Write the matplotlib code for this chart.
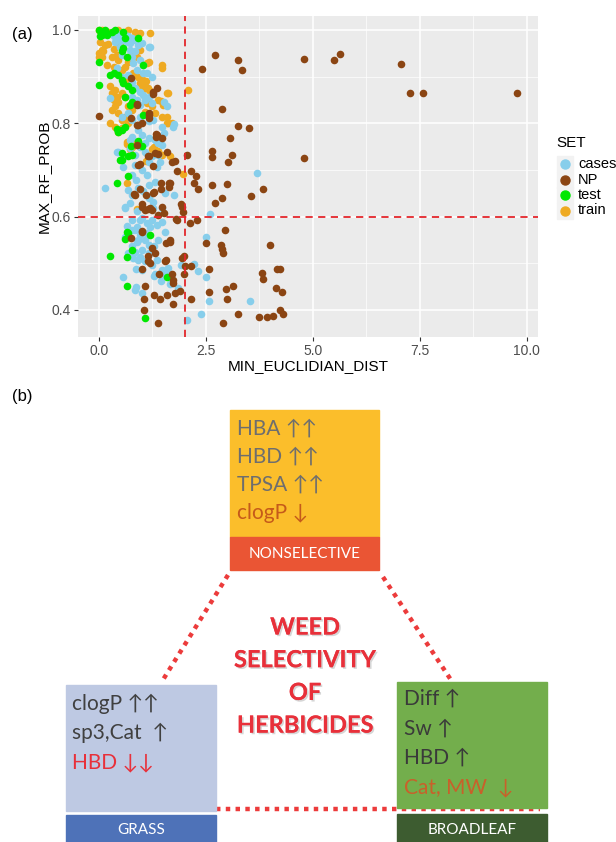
import matplotlib
matplotlib.use("Agg")
import matplotlib.pyplot as plt
import matplotlib.patheffects as pe
from matplotlib.patches import Rectangle
from matplotlib.ticker import MultipleLocator

# ---- panel (a) data: (MIN_EUCLIDIAN_DIST, MAX_RF_PROB) ----
np_x = [0.00, 2.70, 3.26, 3.34, 2.41, 4.78, 5.50, 5.63, 7.05, 7.26, 7.57, 9.77, 4.78, 2.88, 3.26,
        3.50, 3.06, 2.63, 2.63, 3.10, 3.02, 2.05, 2.15, 2.27, 2.32, 2.21, 2.63, 3.00, 3.83, 3.55,
        2.88, 2.72, 1.82, 1.77, 1.92, 1.96, 2.13, 2.30, 1.80, 1.38, 2.95, 2.50, 2.86, 2.88, 2.90,
        4.00, 1.98, 2.00, 2.14, 1.99, 2.58, 3.82, 3.83, 4.15, 4.22, 4.13, 4.28, 2.98, 3.13, 2.58,
        2.14, 3.00, 3.24, 2.90, 3.73, 3.92, 4.06, 4.24, 4.31, 1.77, 1.90, 1.74, 1.43, 1.29, 1.59,
        1.38, 1.05, 1.05, 1.07, 1.00, 1.15, 1.15, 1.24, 1.70, 1.72, 1.74, 1.57, 1.57, 1.67, 1.41,
        1.01, 0.74, 1.15, 1.07, 1.24, 1.47, 1.51, 1.01, 1.11, 0.83, 0.97, 1.29, 1.44, 1.64, 1.64,
        1.44, 1.26, 1.15, 0.97, 0.88, 0.92, 0.74, 0.90, 1.18, 1.18, 1.34, 1.34, 1.47, 1.59, 1.38,
        1.27, 1.36, 0.76, 1.16, 1.31, 0.92, 1.70, 1.66, 1.27, 0.84, 1.00, 1.20, 1.82, 1.94, 1.00,
        1.66, 1.31, 1.20, 1.55, 1.94, 1.27, 0.88, 1.16, 0.88, 1.00, 1.35]
np_y = [0.816, 0.947, 0.936, 0.914, 0.916, 0.938, 0.936, 0.948, 0.926, 0.865, 0.865, 0.865, 0.726, 0.830, 0.795,
        0.789, 0.768, 0.740, 0.727, 0.732, 0.716, 0.731, 0.697, 0.688, 0.660, 0.671, 0.667, 0.669, 0.660, 0.644,
        0.640, 0.630, 0.697, 0.719, 0.628, 0.609, 0.587, 0.593, 0.594, 0.603, 0.572, 0.543, 0.540, 0.530, 0.523,
        0.540, 0.515, 0.494, 0.494, 0.477, 0.488, 0.479, 0.467, 0.488, 0.488, 0.447, 0.438, 0.445, 0.451, 0.438,
        0.424, 0.424, 0.391, 0.373, 0.385, 0.385, 0.387, 0.399, 0.391, 0.437, 0.440, 0.412, 0.424, 0.431, 0.431,
        0.373, 0.423, 0.399, 0.452, 0.488, 0.504, 0.515, 0.532, 0.476, 0.465, 0.458, 0.508, 0.543, 0.550, 0.476,
        0.569, 0.554, 0.617, 0.614, 0.614, 0.621, 0.607, 0.628, 0.646, 0.649, 0.660, 0.653, 0.660, 0.664, 0.672,
        0.672, 0.708, 0.729, 0.713, 0.754, 0.797, 0.812, 0.842, 0.812, 0.823, 0.777, 0.770, 0.768, 0.738, 0.734,
        0.868, 0.875, 0.896, 0.729, 0.736, 0.711, 0.718, 0.671, 0.650, 0.646, 0.621, 0.618, 0.593, 0.621, 0.568,
        0.546, 0.521, 0.500, 0.504, 0.511, 0.863, 0.839, 0.818, 0.796, 0.800, 0.775]

cases_x = [0.34, 0.45, 0.53, 0.61, 0.69, 0.77, 0.84, 0.37, 0.49, 0.57, 0.65, 0.73, 0.92, 1.00, 1.16,
           0.49, 0.53, 0.73, 0.77, 0.84, 0.96, 1.04, 0.80, 0.88, 1.04, 0.41, 0.53, 0.69, 0.77, 0.84,
           0.96, 1.04, 1.16, 1.08, 1.23, 0.26, 0.77, 0.88, 0.96, 0.53, 0.69, 0.77, 0.96, 1.16, 1.27,
           1.51, 1.59, 1.74, 1.47, 0.92, 1.00, 1.16, 1.08, 0.73, 0.77, 1.31, 1.39, 1.51, 1.12, 1.23,
           1.20, 0.41, 0.57, 0.14, 0.73, 0.84, 0.96, 1.08, 1.23, 1.39, 1.47, 0.84, 1.00, 1.16, 1.35,
           0.77, 0.86, 0.69, 0.77, 0.92, 1.04, 1.16, 1.27, 0.61, 0.73, 0.88, 1.00, 1.12, 1.23, 1.35,
           1.47, 0.77, 0.65, 0.84, 0.96, 1.08, 0.88, 0.77, 0.84, 0.96, 1.08, 1.23, 1.35, 1.16, 0.69,
           0.80, 1.39, 1.55, 1.16, 1.47, 1.62, 1.00, 1.27, 1.55, 1.47, 1.31, 1.16, 1.12, 1.43, 3.69,
           2.60, 2.51, 2.49, 2.58, 3.53, 2.38, 2.05, 2.21, 2.32, 1.92, 1.75, 1.75, 1.84, 0.57, 0.86,
           1.01, 1.57, 1.66, 1.47, 1.29, 1.46, 0.86, 0.62, 0.84, 1.30, 1.55, 0.60, 0.74, 0.92, 1.01,
           1.20, 1.29, 1.11, 1.20, 0.88, 0.97, 0.78, 0.92, 0.44]
cases_y = [0.986, 0.989, 0.993, 0.989, 0.986, 0.982, 0.979, 0.975, 0.979, 0.979, 0.975, 0.971, 0.968, 0.971, 0.964,
           0.964, 0.946, 0.957, 0.943, 0.954, 0.936, 0.925, 0.929, 0.914, 0.907, 0.918, 0.900, 0.904, 0.889, 0.875,
           0.868, 0.861, 0.857, 0.850, 0.843, 0.854, 0.857, 0.850, 0.839, 0.814, 0.821, 0.807, 0.814, 0.804, 0.807,
           0.846, 0.836, 0.793, 0.793, 0.786, 0.775, 0.768, 0.757, 0.764, 0.771, 0.764, 0.757, 0.779, 0.907, 0.900,
           0.964, 0.739, 0.707, 0.661, 0.746, 0.732, 0.750, 0.739, 0.729, 0.732, 0.754, 0.711, 0.700, 0.718, 0.707,
           0.689, 0.679, 0.657, 0.646, 0.661, 0.654, 0.640, 0.632, 0.618, 0.629, 0.611, 0.596, 0.586, 0.593, 0.582,
           0.589, 0.593, 0.579, 0.571, 0.561, 0.550, 0.546, 0.536, 0.525, 0.514, 0.504, 0.496, 0.507, 0.521, 0.521,
           0.511, 0.550, 0.568, 0.539, 0.486, 0.489, 0.486, 0.618, 0.650, 0.618, 0.675, 0.668, 0.689, 0.718, 0.694,
           0.605, 0.556, 0.471, 0.419, 0.420, 0.391, 0.379, 0.498, 0.484, 0.497, 0.798, 0.646, 0.447, 0.471, 0.449,
           0.437, 0.486, 0.455, 0.483, 0.472, 0.462, 0.488, 0.556, 0.443, 0.478, 0.475, 0.621, 0.522, 0.508, 0.529,
           0.522, 0.536, 0.564, 0.578, 0.578, 0.593, 0.571, 0.550, 0.739]

test_x = [0.00, 0.06, 0.14, 0.06, 0.18, 0.30, 0.37, 0.57, 0.61, 0.92, 0.02, 0.57, 0.53, 0.65, 0.00,
          1.04, 0.26, 0.34, 0.53, 0.57, 0.45, 0.00, 0.69, 0.77, 0.61, 0.77, 0.73, 1.04, 0.61, 0.53,
          0.45, 0.43, 0.74, 0.69, 0.54, 0.92, 1.01, 0.53, 0.49, 0.69, 0.77, 0.41, 0.69, 0.65, 0.61,
          1.20, 0.26, 0.65, 0.66, 1.07, 1.58, 0.78]
test_y = [1.000, 0.996, 1.000, 0.989, 0.989, 0.996, 1.000, 0.996, 0.982, 0.982, 0.986, 0.961, 0.954, 0.943, 0.932,
          0.925, 0.904, 0.907, 0.893, 0.886, 0.904, 0.882, 0.879, 0.871, 0.857, 0.846, 0.839, 0.818, 0.793, 0.786,
          0.782, 0.787, 0.752, 0.729, 0.722, 0.763, 0.752, 0.736, 0.721, 0.686, 0.732, 0.671, 0.564, 0.568, 0.553,
          0.561, 0.515, 0.513, 0.452, 0.382, 0.471, 0.529]

train_x = [0.00, 0.06, 0.22, 0.45, 0.61, 0.69, 0.84, 0.96, 1.20, 0.02, 0.06, 0.06, 0.22, 0.34, 0.41,
           0.45, 0.34, 0.41, 0.53, 0.61, 0.69, 0.80, 0.88, 0.96, 1.12, 1.16, 1.47, 1.47, 0.92, 1.04,
           0.96, 1.08, 1.00, 1.16, 1.23, 0.26, 0.37, 0.30, 0.41, 0.34, 0.45, 0.53, 0.61, 0.61, 0.69,
           0.37, 0.30, 0.45, 0.61, 0.53, 0.69, 1.39, 1.50, 1.62, 1.62, 1.70, 2.09, 1.12, 1.23, 1.08,
           1.31, 1.47, 1.59, 0.69, 0.77, 0.88, 0.45, 0.53, 0.37, 0.26, 0.00, 0.00, 1.00, 1.10, 1.14,
           1.60, 1.45, 1.60, 0.65, 0.78, 1.29, 1.38, 1.47, 1.65, 1.11, 0.65, 0.88, 1.96, 0.65, 0.84,
           0.72, 1.23, 0.14, 0.10, 0.50, 0.80, 0.30, 0.18]
train_y = [1.000, 1.000, 0.996, 1.000, 0.996, 1.000, 0.996, 0.993, 0.993, 0.975, 0.957, 0.943, 0.970, 0.960, 0.946,
           0.936, 0.920, 0.914, 0.914, 0.921, 0.932, 0.950, 0.943, 0.957, 0.930, 0.932, 0.925, 0.918, 0.900, 0.893,
           0.886, 0.879, 0.871, 0.871, 0.864, 0.879, 0.871, 0.864, 0.857, 0.850, 0.846, 0.864, 0.857, 0.886, 0.893,
           0.836, 0.829, 0.821, 0.814, 0.807, 0.800, 0.850, 0.839, 0.864, 0.800, 0.800, 0.871, 0.843, 0.836, 0.825,
           0.821, 0.814, 0.814, 0.836, 0.829, 0.843, 0.782, 0.789, 0.793, 0.800, 0.950, 0.943, 0.883, 0.890, 0.876,
           0.865, 0.848, 0.800, 0.756, 0.749, 0.749, 0.741, 0.731, 0.729, 0.720, 0.671, 0.617, 0.692, 0.760, 0.757,
           0.745, 0.745, 0.968, 0.954, 0.968, 0.907, 0.943, 0.925]

set_names = ["cases", "NP", "test", "train"]
set_colors = ["#87CEEB", "#8B4513", "#00E800", "#EEAA22"]

x_cut = 2.0
y_cut = 0.6

# ---- panel (b) text ----
nonsel_lines = ["HBA \u2191\u2191", "HBD \u2191\u2191", "TPSA \u2191\u2191", "clogP \u2193"]
grass_lines = ["clogP \u2191\u2191", "sp3,Cat  \u2191", "HBD \u2193\u2193"]
broad_lines = ["Diff \u2191", "Sw \u2191", "HBD \u2191", "Cat, MW  \u2193"]
center_lines = ["WEED", "SELECTIVITY", "OF", "HERBICIDES"]

W, H = 616, 842
fig = plt.figure(figsize=(W / 100, H / 100), dpi=100)

# ---------------- (a) scatter ----------------
ax = fig.add_axes([78 / W, 1 - 337 / H, (538 - 78) / W, (337 - 15.5) / H])
ax.set_facecolor("#EBEBEB")
for s in ax.spines.values():
    s.set_visible(False)
ax.set_xlim(-0.49, 10.26)
ax.set_ylim(0.342, 1.031)
ax.xaxis.set_minor_locator(MultipleLocator(1.25))
ax.yaxis.set_minor_locator(MultipleLocator(0.1))
ax.set_yticks([0.4, 0.6, 0.8, 1.0])
ax.set_yticklabels(["0.4", "0.6", "0.8", "1.0"])
ax.set_xticks([0, 2.5, 5, 7.5, 10])
ax.set_xticklabels(["0.0", "2.5", "5.0", "7.5", "10.0"])
ax.grid(True, which="major", color="white", linewidth=1.1)
ax.grid(True, which="minor", color="white", linewidth=0.5)
ax.set_axisbelow(True)
ax.tick_params(which="major", length=3, pad=2, color="#333333", labelcolor="#4D4D4D", labelsize=10)
ax.tick_params(which="minor", length=0)
for lab in ax.get_xticklabels() + ax.get_yticklabels():
    lab.set_fontfamily("Liberation Sans")

data = {"train": (train_x, train_y), "cases": (cases_x, cases_y),
        "test": (test_x, test_y), "NP": (np_x, np_y)}
for name in ["train", "cases", "test", "NP"]:
    xs, ys = data[name]
    ax.scatter(xs, ys, s=30, color=set_colors[set_names.index(name)], linewidths=0, zorder=3)

ax.axvline(x_cut, color="#E3262B", linestyle=(0, (4, 3)), linewidth=1.3, zorder=4)
ax.axhline(y_cut, color="#E3262B", linestyle=(0, (4, 3)), linewidth=1.3, zorder=4)

ax.set_xlabel("MIN_EUCLIDIAN_DIST", fontsize=11, family="Liberation Sans", labelpad=1)
ax.set_ylabel("MAX_RF_PROB", fontsize=11, family="Liberation Sans", labelpad=1)

# legend drawn by hand, ggplot style
fig.text(556 / W, 1 - 143 / H, "SET", fontsize=11, family="Liberation Sans", va="center")
for i, (name, col) in enumerate(zip(set_names, set_colors)):
    yy = 164 + i * 15.5
    fig.patches.append(Rectangle((557 / W, 1 - (yy + 8) / H), 16 / W, 16 / H,
                                 transform=fig.transFigure, color="#F2F2F2", zorder=1))
    fig.lines.append(plt.Line2D([565 / W], [1 - yy / H], marker="o", markersize=6.5,
                                color=col, linestyle="none", transform=fig.transFigure))
    fig.text(578 / W, 1 - yy / H, name, fontsize=10.5, family="Liberation Sans", va="center")

fig.text(12 / W, 1 - 35 / H, "(a)", fontsize=12, family="Liberation Sans", va="center")
fig.text(12 / W, 1 - 396 / H, "(b)", fontsize=12, family="Liberation Sans", va="center")

# ---------------- (b) diagram ----------------
bx = fig.add_axes([0, 0, 1, 1], zorder=-1)
bx.set_xlim(0, W)
bx.set_ylim(H, 0)
bx.axis("off")

fam = ["Lato", "DejaVu Sans"]
dot = dict(color="#EC3B3B", linewidth=3.2, linestyle=(0, (1, 1.2)), solid_capstyle="butt",
           dash_capstyle="butt")
bx.plot([228, 161], [575, 683], **dot)
bx.plot([383, 453], [577, 683], **dot)
bx.plot([216, 540], [809, 809], **dot)

# top box
bx.add_patch(Rectangle((230, 410), 149, 127, color="#FBBE2B", zorder=2))
bx.add_patch(Rectangle((230, 537), 149, 33, color="#EA5534", zorder=2))
for i, t in enumerate(nonsel_lines):
    c = "#C55A1A" if i == 3 else "#6E6E6E"
    bx.text(237, 429 + i * 28, t, fontsize=15, family=fam, color=c, va="center", zorder=3)
bx.text(305, 554, "NONSELECTIVE", fontsize=11, family=fam, color="white",
        ha="center", va="center", zorder=3)

# grass box
bx.add_patch(Rectangle((66, 685), 150, 126, color="#BEC9E3", zorder=2))
bx.add_patch(Rectangle((66, 815), 150, 30, color="#4E72B8", zorder=2))
for i, t in enumerate(grass_lines):
    c = "#E8303A" if i == 2 else "#404040"
    bx.text(72, 704 + i * 29, t, fontsize=15, family=fam, color=c, va="center", zorder=3)
bx.text(141, 830, "GRASS", fontsize=11, family=fam, color="white", ha="center", va="center", zorder=3)

# broadleaf box
bx.add_patch(Rectangle((397, 682), 150, 126, color="#73AE4C", zorder=2))
bx.add_patch(Rectangle((397, 814), 150, 30, color="#3D5C30", zorder=2))
for i, t in enumerate(broad_lines):
    c = "#C9602A" if i == 3 else "#3A3A3A"
    bx.text(404, 699 + i * 29.5, t, fontsize=15, family=fam, color=c, va="center", zorder=3)
bx.text(472, 830, "BROADLEAF", fontsize=11, family=fam, color="white", ha="center", va="center", zorder=3)

# centre title
shadow = [pe.withSimplePatchShadow(offset=(1.2, -1.2), shadow_rgbFace="#999999", alpha=0.4), pe.Normal()]
for i, t in enumerate(center_lines):
    bx.text(305, 627 + i * 32.7, t, fontsize=17, family=fam, weight="bold", color="#E8303A",
            ha="center", va="center", zorder=3, path_effects=shadow)

fig.savefig("out.png", dpi=100)
